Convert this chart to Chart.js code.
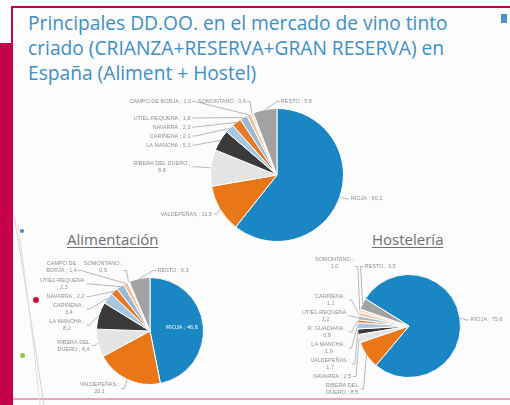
<!DOCTYPE html>
<html lang="es">
<head>
<meta charset="UTF-8">
<title>DD.OO. vino tinto criado</title>
<script src="https://cdn.jsdelivr.net/npm/chart.js"></script>
<style>
  * { margin: 0; padding: 0; box-sizing: border-box; }
  body {
    width: 510px; height: 405px; position: relative; overflow: hidden;
    background: #fff; font-family: 'Open Sans', sans-serif;
  }
  .side { position: absolute; left: 0; top: 43px; width: 11px; height: 362px; background: #c6024b; }
  .frame {
    position: absolute; left: 11px; top: 6px; right: 0; bottom: 0;
    border-top: 2px solid #c6024b; border-left: 2px solid #c6024b; background: #fcfcfc;
  }
  .foot { position: absolute; left: 13px; right: 0; top: 398px; height: 2px; background: #eba3c4; }
  .mark { position: absolute; left: 501px; top: 14px; width: 6px; height: 9px; background: #4b93cc; }
  .title {
    position: absolute; left: 28px; top: 10px; color: #3d8fc6;
    font-size: 19.2px; line-height: 25px; white-space: nowrap;
  }
  .sub {
    position: absolute; top: 229px; font-size: 15px; color: #6f6f6f;
    text-decoration: underline; text-underline-offset: 2px;
  }
  .dot { position: absolute; border-radius: 50%; }
  canvas { position: absolute; left: 0; top: 0; }
</style>
</head>
<body>
  <div class="frame"></div>
  <div class="side"></div>
  <div class="foot"></div>
  <div class="mark"></div>
  <svg width="60" height="405" style="position:absolute;left:0;top:0">
    <path d="M14 215 Q28 300 44 405" stroke="#e7c9d6" fill="none" stroke-width="1"/>
    <path d="M18 225 Q30 310 40 405" stroke="#e0e0e0" fill="none" stroke-width="1"/>
  </svg>
  <div class="dot" style="left:20px;top:229px;width:4px;height:4px;background:#3a8fd0"></div>
  <div class="dot" style="left:33px;top:297px;width:6px;height:6px;background:#c8103a"></div>
  <div class="dot" style="left:20px;top:353px;width:5px;height:5px;background:#8dc63f"></div>

  <div class="title">Principales DD.OO. en el mercado de vino tinto<br>criado (CRIANZA+RESERVA+GRAN RESERVA) en<br>España (Aliment + Hostel)</div>
  <div class="sub" style="left:67px">Alimentación</div>
  <div class="sub" style="left:372px">Hostelería</div>

  <canvas id="totalChart" width="510" height="405"></canvas>
  <canvas id="alimChart" width="510" height="405"></canvas>
  <canvas id="hostChart" width="510" height="405"></canvas>

<script>
// data
const totalNames = ['RIOJA', 'VALDEPEÑAS', 'RIBERA DEL DUERO', 'LA MANCHA', 'CARIÑENA',
  'NAVARRA', 'UTIEL-REQUENA', 'CAMPO DE BORJA', 'SOMONTANO', 'RESTO'];
const totalValues = [60.2, 11.5, 8.8, 5.1, 2.1, 2.3, 1.8, 1.0, 0.6, 5.8];

const alimNames = ['RIOJA', 'VALDEPEÑAS', 'RIBERA DEL DUERO', 'LA MANCHA', 'CARIÑENA',
  'NAVARRA', 'UTIEL-REQUENA', 'CAMPO DE BORJA', 'SOMONTANO', 'RESTO'];
const alimValues = [46.6, 20.1, 8.4, 8.2, 3.4, 2.2, 2.3, 1.4, 0.5, 6.3];

const hostNames = ['RIOJA', 'RIBERA DEL DUERO', 'NAVARRA', 'VALDEPEÑAS', 'LA MANCHA',
  'R. GUADIANA', 'UTIEL-REQUENA', 'CARIÑENA', 'SOMONTANO', 'RESTO'];
const hostValues = [75.6, 8.5, 2.5, 1.7, 1.9, 0.9, 1.2, 1.1, 1.0, 3.5];

const palette = ['#1a86c3', '#ea7717', '#e4e4e4', '#3a3a3a', '#a8c6de',
  '#e57a2a', '#9db8d2', '#f2c19c', '#f6dfcf', '#a2a2a2'];

function fmt(v) { return v.toFixed(1).replace('.', ','); }

function wrap(ctx, text, maxW) {
  const words = text.split(' ');
  const lines = [];
  let cur = '';
  words.forEach(w => {
    const t = cur ? cur + ' ' + w : w;
    if (cur && ctx.measureText(t).width > maxW) { lines.push(cur); cur = w; }
    else cur = t;
  });
  lines.push(cur);
  return lines;
}

// leader-line labels around the pie
const outLabels = {
  id: 'outLabels',
  afterDatasetsDraw(chart, args, o) {
    const ctx = chart.ctx;
    const arcs = chart.getDatasetMeta(0).data;
    const names = chart.data.labels;
    const vals = chart.data.datasets[0].data;
    const lh = o.lineHeight;
    ctx.save();
    ctx.font = o.font;
    ctx.textBaseline = 'middle';
    ctx.textAlign = 'center';
    ctx.lineWidth = 0.7;
    ctx.strokeStyle = '#9a9a9a';

    const items = arcs.map((a, i) => {
      const mid = (a.startAngle + a.endAngle) / 2;
      const r = a.outerRadius;
      const lines = wrap(ctx, names[i] + ' ; ' + fmt(vals[i]), o.wrap);
      const w = Math.max(...lines.map(l => ctx.measureText(l).width));
      return {
        a, mid, r, lines, w, h: lines.length * lh,
        ax: a.x + Math.cos(mid) * r, ay: a.y + Math.sin(mid) * r,
        ny: a.y + Math.sin(mid) * (r + 10)
      };
    });

    const drawText = (it, right, cy, color) => {
      ctx.fillStyle = color || '#8f8f8f';
      const x = right - it.w / 2;
      it.lines.forEach((l, k) => ctx.fillText(l, x, cy - it.h / 2 + lh / 2 + k * lh));
    };
    const leader = (pts) => {
      ctx.beginPath();
      ctx.moveTo(pts[0][0], pts[0][1]);
      pts.slice(1).forEach(p => ctx.lineTo(p[0], p[1]));
      ctx.stroke();
    };

    // first slice
    const f = items[0];
    if (o.firstInside) {
      const x = f.a.x + Math.cos(f.mid) * f.r * 0.6;
      const y = f.a.y + Math.sin(f.mid) * f.r * 0.6;
      drawText(f, x + f.w / 2, y, '#ffffff');
    } else {
      leader([[f.ax, f.ay], [f.ax + 6, f.ay + 2], [f.ax + 9, f.ay + 2]]);
      drawText(f, f.ax + 11 + f.w, f.ay + 2);
    }

    // top row
    const top = items.slice(items.length - o.topCount);
    const rowY = f.a.y - f.r - o.rowGap;
    let nextLeft = Infinity;
    for (let k = top.length - 1; k >= 0; k--) {
      const it = top[k];
      const cy = rowY - (it.lines.length - 1) * lh / 2;
      if (k === top.length - 1) {
        const left = it.ax + o.topShift;
        leader([[it.ax, it.ay], [left - 4, rowY], [left - 1, rowY]]);
        drawText(it, left + it.w, cy);
        nextLeft = left;
      } else {
        const right = Math.min(it.ax - 6, nextLeft - 7);
        leader([[it.ax, it.ay], [right + 4, rowY], [right + 1, rowY]]);
        drawText(it, right, cy);
        nextLeft = right - it.w;
      }
    }

    // left column
    const col = items.slice(1, items.length - o.topCount).sort((p, q) => p.ny - q.ny);
    const gap = 2;
    col.forEach((c, k) => {
      c.y = Math.max(c.ny, o.colTop);
      if (k > 0) c.y = Math.max(c.y, col[k - 1].y + (col[k - 1].h + c.h) / 2 + gap);
    });
    for (let k = col.length - 1; k >= 0; k--) {
      const lim = k === col.length - 1 ? o.colBottom
        : col[k + 1].y - (col[k + 1].h + col[k].h) / 2 - gap;
      if (col[k].y > lim) col[k].y = lim;
    }
    const colRight = f.a.x - f.r - o.colGap;
    col.forEach(c => {
      const right = c.ay > f.a.y ? Math.max(colRight, c.ax - 8) : colRight;
      leader([[c.ax, c.ay], [right + 5, c.y], [right + 2, c.y]]);
      drawText(c, right, c.y);
    });
    ctx.restore();
  }
};

function makePie(id, names, values, cx, cy, r, rotation, labelOpts) {
  return new Chart(document.getElementById(id), {
    type: 'pie',
    data: {
      labels: names,
      datasets: [{
        data: values,
        backgroundColor: palette,
        borderColor: '#ffffff',
        borderWidth: 1
      }]
    },
    options: {
      responsive: false,
      animation: false,
      rotation: rotation,
      events: [],
      layout: { padding: { left: cx - r, right: 510 - cx - r, top: cy - r, bottom: 405 - cy - r } },
      plugins: {
        legend: { display: false },
        tooltip: { enabled: false },
        outLabels: Object.assign({ font: '5.5px "Liberation Sans"', lineHeight: 7 }, labelOpts)
      }
    },
    plugins: [outLabels]
  });
}

makePie('totalChart', totalNames, totalValues, 277, 175, 67, 0,
  { wrap: 66, topCount: 3, rowGap: 7, topShift: 16, colTop: 118, colBottom: 214, colGap: 20 });
makePie('alimChart', alimNames, alimValues, 150, 331, 54, 0,
  { wrap: 40, topCount: 3, rowGap: 7, topShift: 18, colTop: 284, colBottom: 398, colGap: 12, firstInside: true });
makePie('hostChart', hostNames, hostValues, 409, 326, 52, -58,
  { wrap: 40, topCount: 2, rowGap: 8, topShift: 2, colTop: 285, colBottom: 389, colGap: 11 });
</script>
</body>
</html>
